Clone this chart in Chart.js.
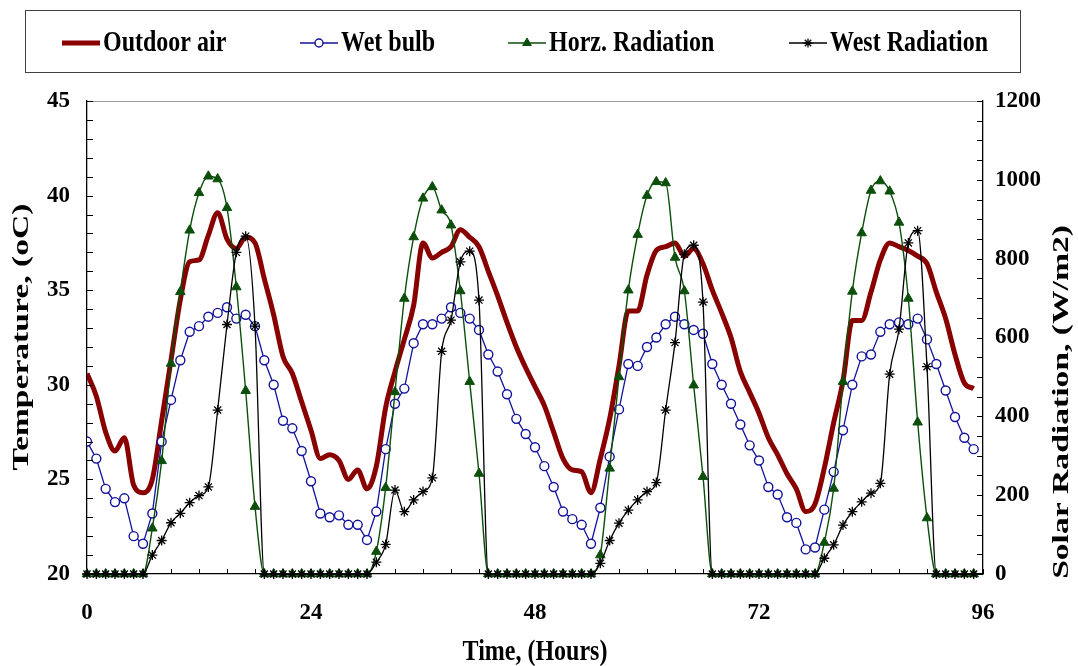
<!DOCTYPE html>
<html>
<head>
<meta charset="utf-8">
<title>Outdoor air, wet bulb and solar radiation</title>
<script src="https://cdn.jsdelivr.net/npm/chart.js@4.4.1/dist/chart.umd.min.js"></script>
<style>
  html, body { margin: 0; padding: 0; background: #fff; }
  #wrap { width: 1078px; height: 666px; }
</style>
</head>
<body>
<div id="wrap"><canvas id="chart" width="1078" height="666"></canvas></div>
<script>
// ────────────────────────────────────────────────
// Data (hourly)
// ────────────────────────────────────────────────
const hours = [
     0,  1,  2,  3,  4,  5,  6,  7,  8,  9, 10, 11, 12, 13, 14, 15, 16, 17, 18, 19, 20, 21, 22, 23,
    24, 25, 26, 27, 28, 29, 30, 31, 32, 33, 34, 35, 36, 37, 38, 39, 40, 41, 42, 43, 44, 45, 46, 47,
    48, 49, 50, 51, 52, 53, 54, 55, 56, 57, 58, 59, 60, 61, 62, 63, 64, 65, 66, 67, 68, 69, 70, 71,
    72, 73, 74, 75, 76, 77, 78, 79, 80, 81, 82, 83, 84, 85, 86, 87, 88, 89, 90, 91, 92, 93, 94, 95
];

const outdoorAir = [
    30.6, 29.4, 27.5, 26.5, 27.2, 24.7, 24.3, 25.0, 28.1, 31.3, 34.5, 36.5, 36.6, 37.9, 39.1, 37.7, 37.2, 37.8, 37.5, 35.6, 33.7, 31.5, 30.6, 29.1,
    27.6, 26.1, 26.3, 26.0, 25.0, 25.5, 24.5, 25.7, 28.8, 30.7, 32.4, 34.2, 37.5, 36.7, 37.0, 37.3, 38.2, 37.8, 37.3, 36.0, 34.7, 33.3, 32.0, 30.9,
    29.9, 28.9, 27.5, 26.1, 25.5, 25.4, 24.3, 26.1, 28.2, 31.0, 33.9, 33.9, 35.8, 37.1, 37.3, 37.5, 36.8, 37.2, 36.4, 35.0, 33.8, 32.5, 30.7, 29.6,
    28.5, 27.2, 26.3, 25.3, 24.5, 23.3, 23.7, 25.6, 28.0, 30.2, 33.4, 33.4, 34.9, 36.6, 37.5, 37.3, 37.1, 36.8, 36.4, 34.9, 33.5, 31.6, 30.1, 29.8
];

const wetBulb = [
    27.0, 26.1, 24.5, 23.8, 24.0, 22.0, 21.6, 23.2, 27.0, 29.2, 31.3, 32.8, 33.1, 33.6, 33.8, 34.1, 33.5, 33.7, 33.1, 31.3, 30.0, 28.1, 27.7, 26.5,
    24.9, 23.2, 23.0, 23.1, 22.6, 22.6, 21.8, 23.3, 26.6, 29.0, 29.8, 32.2, 33.2, 33.2, 33.5, 34.1, 33.8, 33.5, 32.9, 31.6, 30.7, 29.5, 28.2, 27.4,
    26.7, 25.7, 24.6, 23.3, 22.9, 22.6, 21.6, 23.5, 26.2, 28.7, 31.1, 31.0, 32.0, 32.5, 33.2, 33.6, 33.2, 32.9, 32.7, 31.1, 30.0, 29.0, 27.9, 26.8,
    26.0, 24.6, 24.2, 23.0, 22.7, 21.3, 21.4, 23.4, 25.4, 27.6, 30.0, 31.5, 31.6, 32.8, 33.2, 33.3, 33.2, 33.5, 32.4, 31.1, 29.7, 28.3, 27.2, 26.6
];

const horzRadiation = [
    0, 0, 0, 0, 0, 0, 0, 116, 287, 534, 716, 872, 967, 1009, 1002, 929, 728, 465, 171, 0, 0, 0, 0, 0,
    0, 0, 0, 0, 0, 0, 0,  57, 219, 462, 699, 855, 953,  982,  923, 885, 718, 488, 255, 0, 0, 0, 0, 0,
    0, 0, 0, 0, 0, 0, 0,  48, 268, 500, 720, 861, 960,  995,  992, 803, 718, 479, 247, 0, 0, 0, 0, 0,
    0, 0, 0, 0, 0, 0, 0,  80, 217, 488, 717, 865, 973,  997,  971, 892, 699, 385, 142, 0, 0, 0, 0, 0
];

const westRadiation = [
    0, 0, 0, 0, 0, 0, 0, 48, 85, 130, 154, 181, 199, 221, 416, 633, 816, 857, 629, 0, 0, 0, 0, 0,
    0, 0, 0, 0, 0, 0, 0, 30, 75, 213, 158, 188, 209, 244, 565, 644, 792, 819, 695, 0, 0, 0, 0, 0,
    0, 0, 0, 0, 0, 0, 0, 27, 85, 129, 162, 188, 209, 232, 416, 587, 811, 834, 690, 0, 0, 0, 0, 0,
    0, 0, 0, 0, 0, 0, 0, 40, 74, 124, 158, 183, 205, 230, 507, 621, 840, 871, 526, 0, 0, 0, 0, 0
];

// Tick labels
const timeTicks = [0, 24, 48, 72, 96];
const tempTicks = [20, 25, 30, 35, 40, 45];
const radTicks  = [0, 200, 400, 600, 800, 1000, 1200];

// ────────────────────────────────────────────────
// Styling helpers
// ────────────────────────────────────────────────
const SERIF = "'Liberation Serif', 'Times New Roman', serif";
const STRETCH_H = 1.2;        // horizontal text in the source is drawn taller than wide
const STRETCH_V = 1.4;        // rotated titles are stretched along their length

const toPoints = values => values.map((v, i) => ({ x: hours[i], y: v }));

function drawStretchedText(ctx, text, x, y, angle, sx, sy) {
    ctx.save();
    ctx.translate(x, y);
    ctx.rotate(angle);
    ctx.scale(sx, sy);
    ctx.fillText(text, 0, 0);
    ctx.restore();
}

// Inside tick marks, plot frame, axis titles and the boxed legend
const decorPlugin = {
    id: 'decor',
    afterDraw(chart) {
        const { ctx, chartArea: area, scales } = chart;
        ctx.save();

        // grey top edge of the plot frame
        ctx.strokeStyle = '#9a9a9a';
        ctx.lineWidth = 1;
        ctx.beginPath();
        ctx.moveTo(area.left, area.top + 0.5);
        ctx.lineTo(area.right, area.top + 0.5);
        ctx.stroke();

        // minor ticks pointing into the plot
        ctx.strokeStyle = '#000';
        ctx.lineWidth = 1;
        ctx.beginPath();
        for (let v = scales.x.min; v <= scales.x.max; v += 3) {
            const px = Math.round(scales.x.getPixelForValue(v)) + 0.5;
            ctx.moveTo(px, area.bottom);
            ctx.lineTo(px, area.bottom - 5);
        }
        for (let v = scales.yT.min; v <= scales.yT.max; v += 1) {
            const py = Math.round(scales.yT.getPixelForValue(v)) + 0.5;
            ctx.moveTo(area.left, py);
            ctx.lineTo(area.left + 6, py);
        }
        for (let v = scales.yR.min; v <= scales.yR.max; v += 50) {
            const py = Math.round(scales.yR.getPixelForValue(v)) + 0.5;
            ctx.moveTo(area.right, py);
            ctx.lineTo(area.right - 6, py);
        }
        ctx.stroke();

        // axis titles
        ctx.fillStyle = '#000';
        ctx.font = `bold 24px ${SERIF}`;
        ctx.textAlign = 'center';
        ctx.textBaseline = 'middle';
        drawStretchedText(ctx, 'Time, (Hours)', 535, 653, 0, 1, STRETCH_H);
        drawStretchedText(ctx, 'Temperature, (oC)', 22, 337, -Math.PI / 2, STRETCH_V, 1);
        drawStretchedText(ctx, 'Solar Radiation, (W/m2)', 1062, 402, -Math.PI / 2, STRETCH_V, 1);

        // boxed legend
        ctx.strokeStyle = '#404040';
        ctx.lineWidth = 1;
        ctx.strokeRect(25.5, 10.5, 995, 62);

        const itemStarts = [62, 300, 508, 789];
        const legendY = 43;
        ctx.font = `bold 24px ${SERIF}`;
        ctx.textAlign = 'left';
        chart.data.datasets.forEach((ds, i) => {
            const x0 = itemStarts[i];
            const x1 = x0 + 38;
            ctx.strokeStyle = ds.borderColor;
            ctx.lineWidth = ds.borderWidth;
            ctx.beginPath();
            ctx.moveTo(x0, legendY);
            ctx.lineTo(x1, legendY);
            ctx.stroke();
            if (ds.pointRadius > 0) {
                ctx.fillStyle = ds.pointBackgroundColor;
                ctx.strokeStyle = ds.pointBorderColor;
                ctx.lineWidth = ds.pointBorderWidth;
                Chart.helpers.drawPoint(ctx, {
                    pointStyle: ds.pointStyle,
                    radius: ds.pointRadius - 0.5,
                    rotation: 0,
                    borderWidth: ds.pointBorderWidth
                }, (x0 + x1) / 2, legendY);
            }
            ctx.fillStyle = '#000';
            drawStretchedText(ctx, ds.label, x1 + 3, legendY + 1, 0, 1, STRETCH_H);
        });

        ctx.restore();
    }
};

// ────────────────────────────────────────────────
// Chart
// ────────────────────────────────────────────────
const tickFont = { family: SERIF, size: 23, weight: 'bold' };
const plainNumber = v => String(v);

new Chart(document.getElementById('chart'), {
    type: 'line',
    data: {
        datasets: [
            {
                label: 'Outdoor air',
                data: toPoints(outdoorAir),
                yAxisID: 'yT',
                borderColor: '#880000',
                borderWidth: 5,
                pointRadius: 0,
                cubicInterpolationMode: 'monotone',
                order: 4
            },
            {
                label: 'Wet bulb',
                data: toPoints(wetBulb),
                yAxisID: 'yT',
                borderColor: '#12129c',
                borderWidth: 1.3,
                tension: 0,
                pointStyle: 'circle',
                pointRadius: 4.5,
                pointBackgroundColor: '#ffffff',
                pointBorderColor: '#12129c',
                pointBorderWidth: 1.4,
                order: 3
            },
            {
                label: 'Horz. Radiation',
                data: toPoints(horzRadiation),
                yAxisID: 'yR',
                borderColor: '#0b4f0b',
                borderWidth: 1.4,
                cubicInterpolationMode: 'monotone',
                pointStyle: 'triangle',
                pointRadius: 5.5,
                pointBackgroundColor: '#0b4f0b',
                pointBorderColor: '#0b4f0b',
                pointBorderWidth: 1,
                clip: 8,
                order: 2
            },
            {
                label: 'West Radiation',
                data: toPoints(westRadiation),
                yAxisID: 'yR',
                borderColor: '#000000',
                borderWidth: 1.3,
                cubicInterpolationMode: 'monotone',
                pointStyle: 'star',
                pointRadius: 5,
                pointBackgroundColor: '#000000',
                pointBorderColor: '#000000',
                pointBorderWidth: 1.3,
                clip: 8,
                order: 1
            }
        ]
    },
    options: {
        responsive: false,
        animation: false,
        layout: { padding: { top: 101, right: 0, bottom: 0, left: 0 } },
        plugins: {
            legend: { display: false },
            tooltip: { enabled: false }
        },
        scales: {
            x: {
                type: 'linear',
                min: 0,
                max: 96,
                afterBuildTicks: s => { s.ticks = timeTicks.map(v => ({ value: v })); },
                afterFit: s => { s.height = 92; },
                ticks: { font: tickFont, color: '#000', padding: 25, maxRotation: 0, callback: plainNumber },
                grid: { display: false, drawTicks: false },
                border: { display: true, color: '#000', width: 1.3 }
            },
            yT: {
                type: 'linear',
                position: 'left',
                min: 20,
                max: 45,
                afterBuildTicks: s => { s.ticks = tempTicks.map(v => ({ value: v })); },
                afterFit: s => { s.width = 87; },
                ticks: { font: tickFont, color: '#000', padding: 17, callback: plainNumber },
                grid: { display: false, drawTicks: false },
                border: { display: true, color: '#000', width: 1.3 }
            },
            yR: {
                type: 'linear',
                position: 'right',
                min: 0,
                max: 1200,
                afterBuildTicks: s => { s.ticks = radTicks.map(v => ({ value: v })); },
                afterFit: s => { s.width = 95; },
                ticks: { font: tickFont, color: '#000', padding: 12, callback: plainNumber },
                grid: { display: false, drawTicks: false },
                border: { display: true, color: '#000', width: 1.3 }
            }
        }
    },
    plugins: [decorPlugin]
});
</script>
</body>
</html>
